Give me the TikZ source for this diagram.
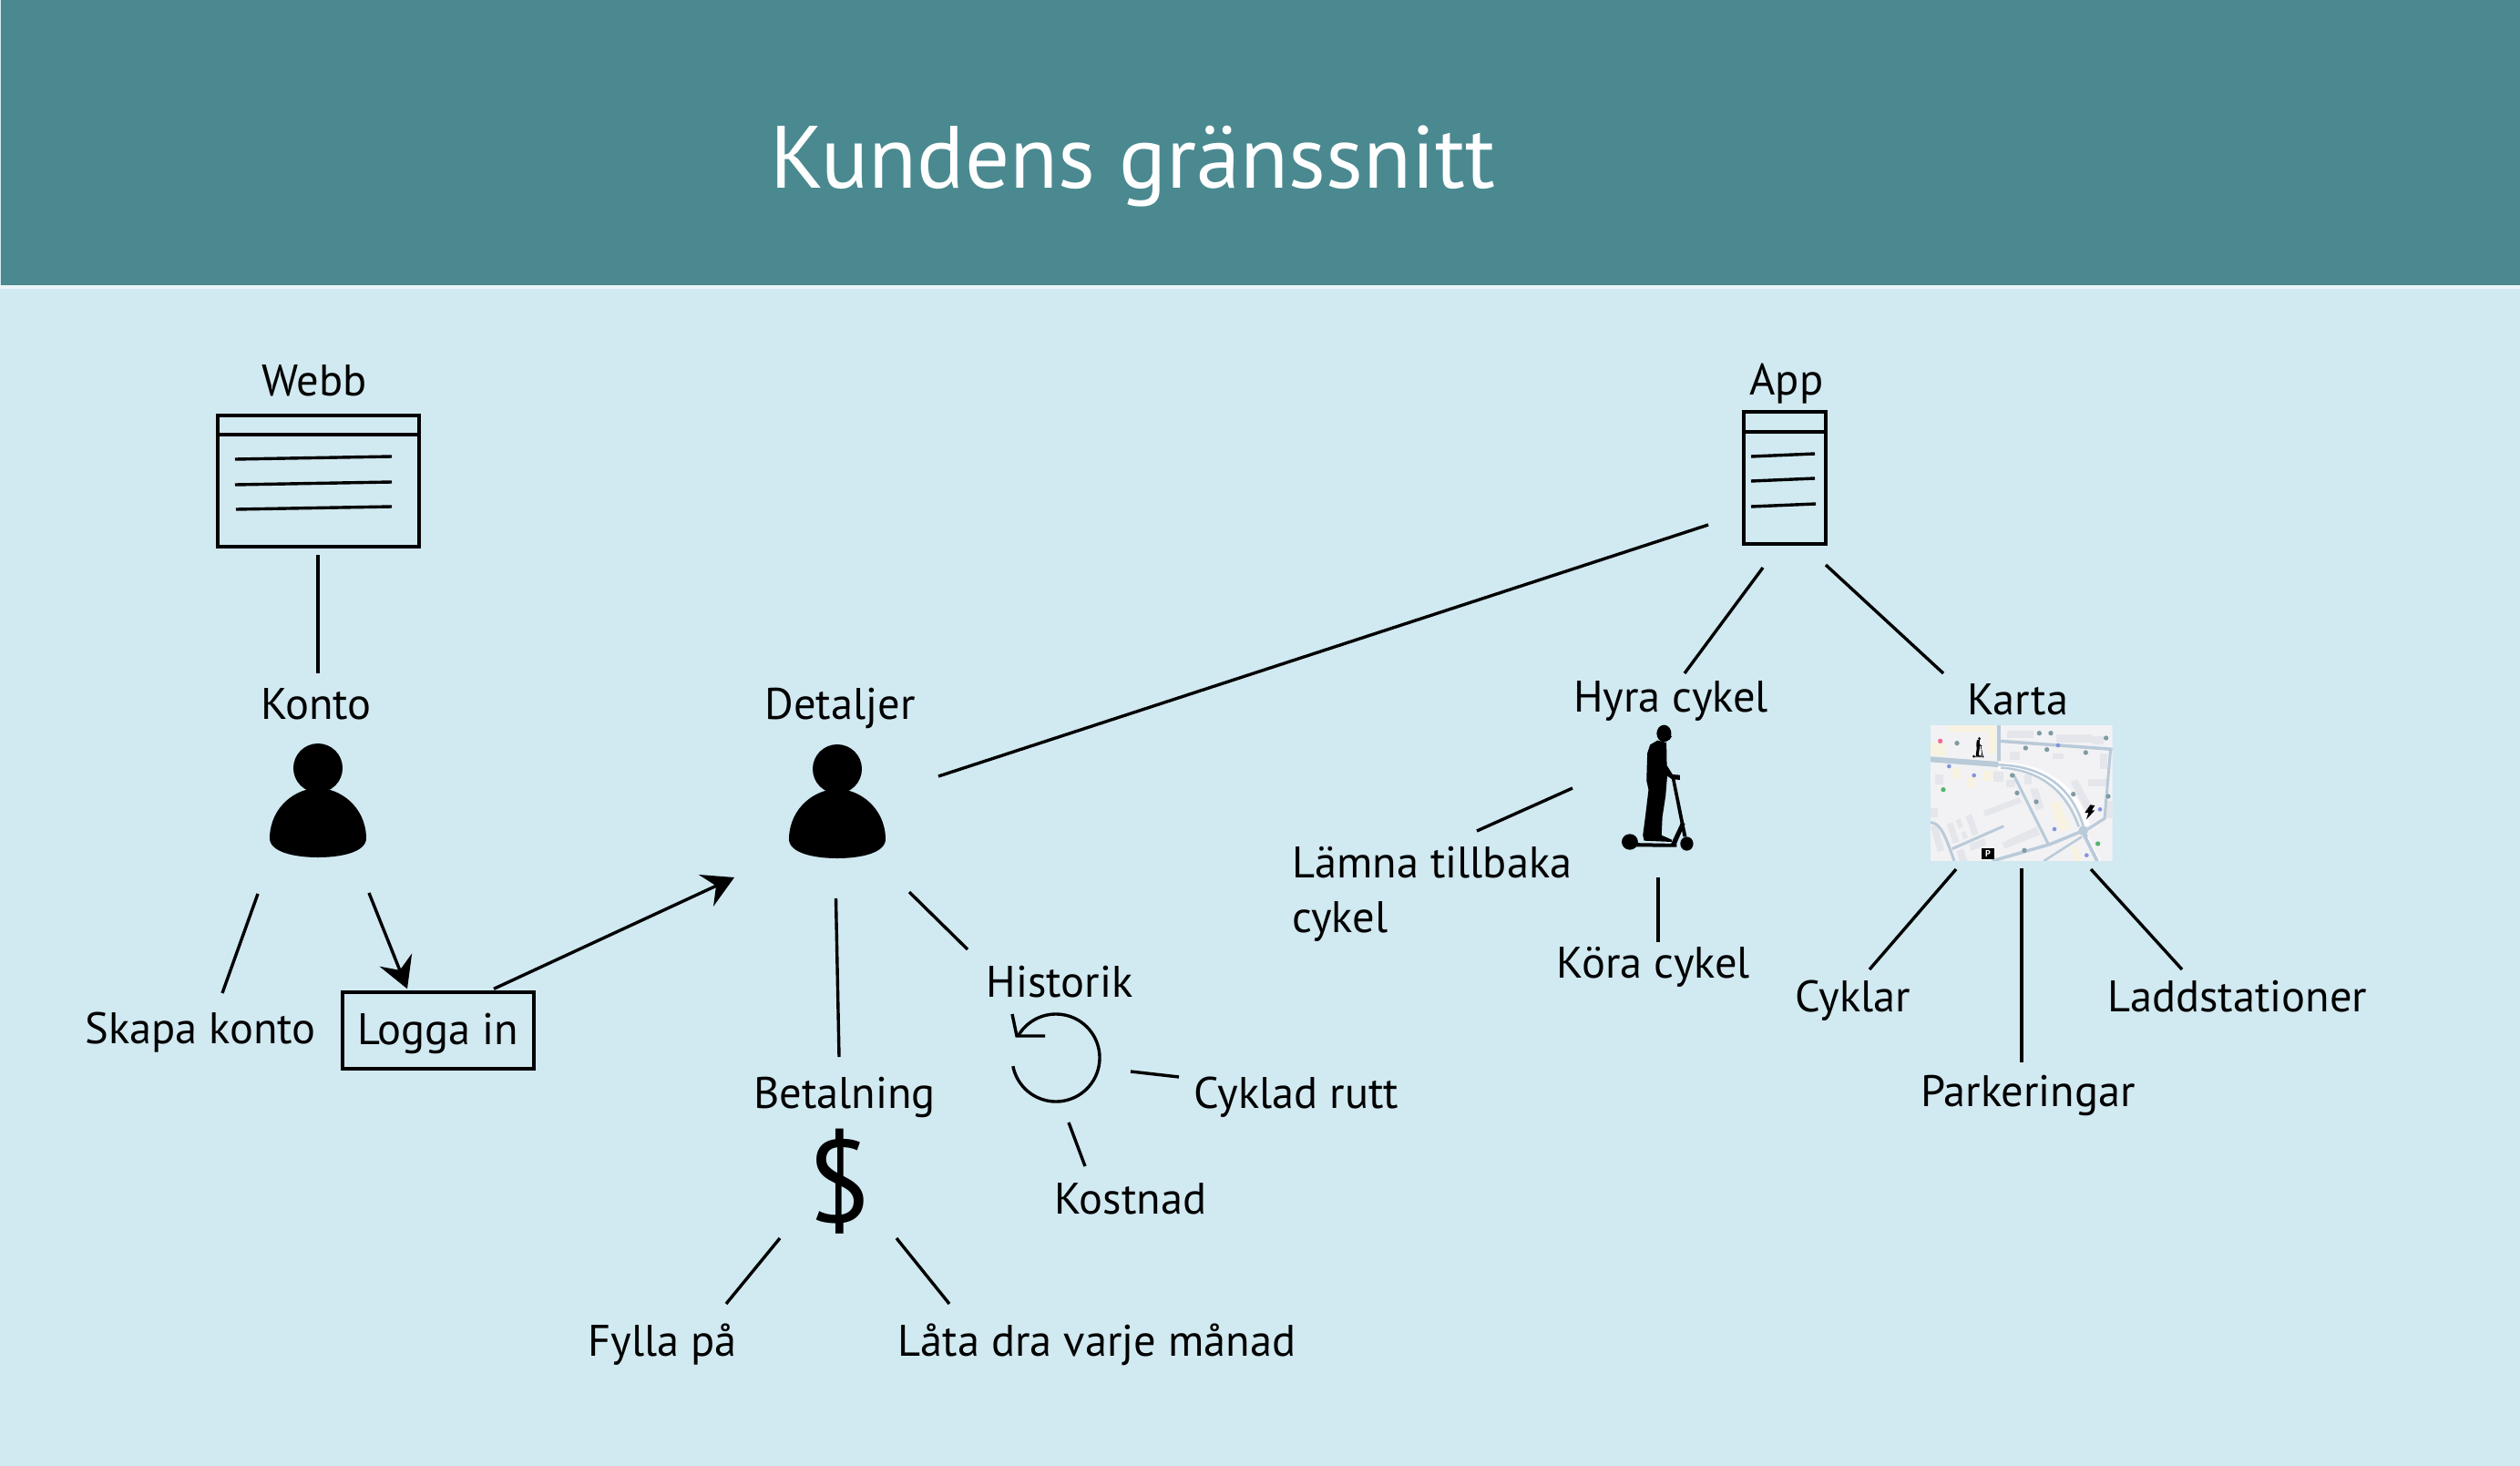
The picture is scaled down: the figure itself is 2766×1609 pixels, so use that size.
\documentclass[tikz,border=0pt]{standalone}
\usepackage{fontspec}
\setmainfont{PT Sans}
\usetikzlibrary{arrows.meta}
\definecolor{bgc}{HTML}{D1E9F1}
\definecolor{headc}{HTML}{4A8990}
\definecolor{stripc}{HTML}{EAF5F8}
\definecolor{roadc}{HTML}{B9CAD9}
\definecolor{bldc}{HTML}{E4E6EB}
\definecolor{begc}{HTML}{F8F3E0}
\definecolor{mapc}{HTML}{F2F2F4}
\definecolor{pinc}{HTML}{7F9BA3}
\definecolor{pinpink}{HTML}{EE6C98}
\definecolor{pinblue}{HTML}{8494DC}
\definecolor{pingreen}{HTML}{55B56E}
\newcommand\personicon[1]{%
  \begin{scope}[shift={#1}]
    \fill (0,-47) circle [radius=27];
    \fill (-53,29) .. controls (-52,-5) and (-24,-25) .. (0,-25)
      .. controls (24,-25) and (52,-5) .. (53,29)
      .. controls (54,45) and (26,51) .. (0,51)
      .. controls (-26,51) and (-54,45) .. (-53,29) -- cycle;
  \end{scope}}
\newcommand\scootershape{%
  \fill (284,195) ellipse [x radius=18,y radius=28];
  \fill (295,195) -- (303,205) -- (298,215) -- (285,222) -- cycle;
  \fill (268,218) -- (290,225) -- (291,300) -- (305,330) -- (323,332) -- (323,348) -- (303,345)
    -- (292,335) -- (288,400) -- (280,470) -- (278,530) -- (303,545) -- (303,552) -- (235,548)
    -- (232,530) -- (238,470) -- (246,380) -- (241,350) -- (243,260) -- (250,232) -- cycle;
  \fill (200,552) ellipse [x radius=20,y radius=26];
  \fill (340,558) ellipse [x radius=16,y radius=23];
  \fill (195,555) -- (315,558) -- (315,569) -- (195,568) -- cycle;
  \fill (303,345) -- (311,345) -- (340,535) -- (331,535) -- cycle;
  \fill (326,488) -- (336,492) -- (312,566) -- (300,562) -- cycle;}
\tikzset{
  lbl/.style={font=\fontsize{48.5}{60}\selectfont,inner sep=0pt,outer sep=0pt,anchor=base,text=black},
  conn/.style={line width=3.4pt},
  arrowconn/.style={conn,-{Stealth[length=34pt,width=38pt,inset=12pt]}},
  iconline/.style={line width=3.4pt},
  road/.style={roadc,line width=#1},
  bld/.style={fill=bldc},
  beg/.style={fill=begc}
}
\begin{document}
\begin{tikzpicture}[x=1pt,y=-1pt]
\useasboundingbox (0,0) rectangle (2766,1609);
\fill[bgc] (0,0) rectangle (2766,1609);
\fill[headc] (1,0) rectangle (2766,313);
\fill[stripc] (0,313) rectangle (2766,317);
\node[lbl,text=white,font=\fontsize{97}{110}\selectfont] (title) at (1243,206) {Kundens gränssnitt};

% Webb icon
\coordinate (webbIcon) at (349,528);
\draw[iconline] (239,456) rectangle (460,600);
\draw[iconline] (239,477) -- (460,477);
\draw[iconline] (258,504) -- (430,501);
\draw[iconline] (258,532) -- (430,529);
\draw[iconline] (259,559) -- (430,556);
% App icon
\coordinate (appIcon) at (1959,525);
\draw[iconline] (1914,452) rectangle (2004,597);
\draw[iconline] (1914,474) -- (2004,474);
\draw[iconline] (1922,501) -- (1992,498);
\draw[iconline] (1922,528) -- (1992,525);
\draw[iconline] (1922,556) -- (1993,553);
% People
\coordinate (kontoIcon) at (349,890);
\personicon{(349,890)}
\coordinate (detaljerIcon) at (919,891);
\personicon{(919,891)}
% History icon
\coordinate (historyIcon) at (1159,1161);
\draw[iconline] plot[domain=169:-150,samples=100] ({1159+48*cos(\x)},{1161+48*sin(\x)});
\draw[iconline] (1111,1113) -- (1116,1137) -- (1147,1137);
% Scooter
\coordinate (scooterIcon) at (1820,865);
\begin{scope}[shift={(1780,796)},xscale=0.4464,yscale=0.3333,shift={(-180,-168)}]
  \scootershape
\end{scope}
% Map
\coordinate (mapIcon) at (2219,870);
\begin{scope}[shift={(2110,790)},scale=0.3333]
  \begin{scope}
  \clip (27,18) rectangle (626,465);
  \fill[mapc] (27,18) rectangle (626,465);
  \fill[beg] (27,75) rectangle (75,120);
  \fill[beg] (90,18) rectangle (240,40);
  \fill[beg] (215,40) rectangle (240,110);
  \fill[beg] (100,160) rectangle (125,195);
  \fill[beg] (150,190) rectangle (178,222);
  \fill[beg] (200,168) rectangle (230,200);
  \fill[beg] (420,275) -- (452,268) -- (485,360) -- (455,368) -- cycle;
  \fill[beg] (490,420) -- (510,415) -- (525,465) -- (500,465) -- cycle;
  \fill[bld] (278,36) rectangle (365,60);
  \fill[bld] (440,48) rectangle (560,76);
  \fill[bld] (562,55) rectangle (596,80);
  \fill[bld] (288,105) rectangle (320,132);
  \fill[bld] (430,110) rectangle (465,130);
  \fill[bld] (585,112) rectangle (610,162);
  \fill[bld] (42,180) rectangle (68,212);
  \fill[bld] (235,170) rectangle (268,205);
  \fill[bld] (275,198) rectangle (305,222);
  \fill[bld] (335,180) rectangle (360,212);
  \fill[bld] (545,195) rectangle (612,218);
  \fill[bld] (27,292) rectangle (52,320);
  \fill[bld] (200,300) -- (320,255) -- (328,272) -- (208,318) -- cycle;
  \fill[bld] (355,228) -- (380,225) -- (400,290) -- (375,298) -- cycle;
  \fill[bld] (488,205) -- (510,195) -- (560,290) -- (538,300) -- cycle;
  \fill[bld] (27,350) -- (50,345) -- (72,430) -- (50,435) -- cycle;
  \fill[bld] (80,345) -- (100,338) -- (122,400) -- (102,408) -- cycle;
  \fill[bld] (110,332) -- (125,325) -- (135,352) -- (120,358) -- cycle;
  \fill[bld] (142,318) -- (162,310) -- (185,375) -- (165,382) -- cycle;
  \fill[bld] (128,372) -- (142,366) -- (150,388) -- (135,393) -- cycle;
  \fill[bld] (155,408) -- (205,390) -- (210,412) -- (160,432) -- cycle;
  \fill[bld] (112,432) -- (135,425) -- (148,465) -- (122,465) -- cycle;
  \fill[bld] (262,405) -- (375,352) -- (388,378) -- (272,425) -- cycle;
  \fill[bld] (605,268) rectangle (626,325);
  % roads
  \draw[white,line width=8.5pt] (250,152) .. controls (400,155) and (495,220) .. (540,350);
  \draw[road=6pt] (27,130) -- (250,147);
  \draw[road=4pt] (252,18) -- (252,135);
  \draw[road=3.5pt] (255,70) -- (626,97);
  \draw[road=3pt] (620,95) -- (600,325) -- (545,360);
  \draw[road=2.5pt] (250,148) .. controls (390,152) and (490,215) .. (530,350);
  \draw[road=2.5pt] (258,158) .. controls (380,165) and (470,225) .. (515,352);
  \draw[road=3pt] (300,180) -- (415,410);
  \draw[road=3.5pt] (230,465) -- (420,410) -- (530,365);
  \draw[road=3pt] (98,425) -- (268,350);
  \draw[road=3pt] (27,338) .. controls (60,340) and (75,380) .. (105,465);
  \draw[road=2.5pt] (400,465) -- (525,385);
  \draw[road=5pt] (530,370) -- (578,465);
  \fill[roadc] (530,365) circle [radius=16];
  \draw[white,line width=1.5pt] (545,385) -- (585,465);
  % pins
  \foreach \p in {(114,77),(385,44),(423,44),(605,60),(340,93),(410,98),(538,108),(296,183),(312,241),(375,270),(497,245),(612,252),(336,430)}
    \fill[pinc] \p circle [radius=8];
  \fill[pinpink] (59,70) circle [radius=8];
  \foreach \p in {(170,183),(435,360),(447,84),(88,153),(541,446),(585,295)}
    \fill[pinblue] \p circle [radius=7];
  \foreach \p in {(69,230),(578,408)}
    \fill[pingreen] \p circle [radius=8];
  \end{scope}
  \fill (553,280) -- (568,282) -- (558,298) -- (568,298) -- (540,328) -- (547,306) -- (535,306) -- cycle;
  \fill (196,422) rectangle (236,460);
  \node[font=\bfseries\fontsize{10}{10}\selectfont,text=white,inner sep=0pt] (parkP) at (216,441) {P};
\end{scope}
\begin{scope}[shift={(2165,809)},xscale=0.0716,yscale=0.055,shift={(-180,-168)}]
  \scootershape
\end{scope}

% Labels
\node[lbl] (webb) at (345,434.5) {Webb};
\node[lbl] (konto) at (347,789) {Konto};
\node[lbl] (skapa) at (220,1145) {Skapa konto};
\node[draw,line width=3.4pt,inner sep=0pt,minimum width=210pt,minimum height=84pt] (logga) at (481,1131) {};
\node[lbl] (loggatext) at (481,1146) {Logga in};
\node[lbl] (detaljer) at (922,789) {Detaljer};
\node[lbl] (betalning) at (927,1216) {Betalning};
\node[lbl,font=\fontsize{128}{140}\selectfont] (dollar) at (921,1341) {\$};
\node[lbl] (historik) at (1163,1094) {Historik};
\node[lbl] (cyklad) at (1423,1216) {Cyklad rutt};
\node[lbl] (kostnad) at (1241,1332) {Kostnad};
\node[lbl] (fylla) at (727,1488) {Fylla på};
\node[lbl] (lata) at (1204,1488) {Låta dra varje månad};
\node[lbl] (app) at (1961,433) {App};
\node[lbl] (hyra) at (1834,781) {Hyra cykel};
\node[lbl] (karta) at (2215,784) {Karta};
\node[lbl,anchor=west,align=left] (lamna) at (1418,981) {Lämna tillbaka\\cykel};
\node[lbl] (kora) at (1815,1073) {Köra cykel};
\node[lbl] (cyklar) at (2034,1110) {Cyklar};
\node[lbl] (ladd) at (2456,1110) {Laddstationer};
\node[lbl] (park) at (2226,1214) {Parkeringar};

% Connectors
\draw[conn] ([shift={(0,81)}]webbIcon) -- ([shift={(2,-50)}]konto.base);
\draw[conn] ([shift={(-66,91)}]kontoIcon) -- ([shift={(24,-55)}]skapa.base);
\draw[arrowconn] ([shift={(56,90)}]kontoIcon) -- ([shift={(-34,-2)}]logga.north);
\draw[arrowconn] ([shift={(61,-2)}]logga.north) -- ([shift={(-113,72)}]detaljerIcon);
\draw[conn] ([shift={(-1.5,95)}]detaljerIcon) -- ([shift={(-6,-56)}]betalning.base);
\draw[conn] ([shift={(79,88)}]detaljerIcon) -- ([shift={(-101,-52)}]historik.base);
\draw[conn] ([shift={(111,-39)}]detaljerIcon) -- ([shift={(-84,51)}]appIcon);
\draw[conn] ([shift={(82,15)}]historyIcon) -- ([shift={(-129,-34)}]cyklad.base);
\draw[conn] ([shift={(14,71)}]historyIcon) -- ([shift={(-50,-52)}]kostnad.base);
\draw[conn] ([shift={(-65,18)}]dollar.base) -- ([shift={(70,-57)}]fylla.base);
\draw[conn] ([shift={(63,18)}]dollar.base) -- ([shift={(-162,-57)}]lata.base);
\draw[conn] ([shift={(-24,98)}]appIcon) -- ([shift={(15,-42)}]hyra.base);
\draw[conn] ([shift={(45,95)}]appIcon) -- ([shift={(-82,-45)}]karta.base);
\draw[conn] ([shift={(-94,0)}]scooterIcon) -- ([shift={(203,-69)}]lamna.west);
\draw[conn] ([shift={(0,98)}]scooterIcon) -- ([shift={(5,-39)}]kora.base);
\draw[conn] ([shift={(-72,84)}]mapIcon) -- ([shift={(18,-46)}]cyklar.base);
\draw[conn] ([shift={(0,83)}]mapIcon) -- ([shift={(-7,-48)}]park.base);
\draw[conn] ([shift={(76,84)}]mapIcon) -- ([shift={(-61,-46)}]ladd.base);
\end{tikzpicture}
\end{document}
